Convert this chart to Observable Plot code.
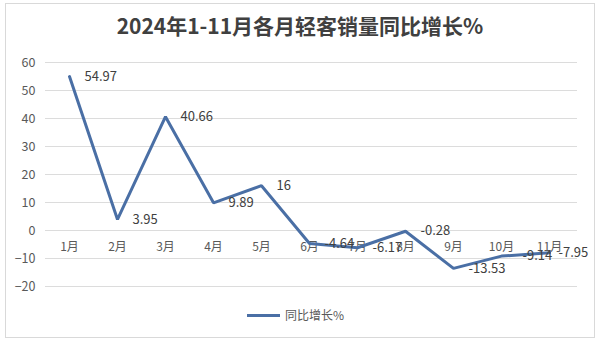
<!DOCTYPE html>
<html><head><meta charset="utf-8">
<script src="https://cdn.jsdelivr.net/npm/d3@7"></script>
<script src="https://cdn.jsdelivr.net/npm/@observablehq/plot@0.6"></script>
<style>
body{margin:0;background:#fff;width:600px;height:344px;position:relative;overflow:hidden;font-family:"Noto Sans CJK SC","Noto Sans",sans-serif;}
#frame{position:absolute;left:5px;top:3px;width:590px;height:335px;border:1px solid #d9d9d9;box-sizing:border-box;}
#title{position:absolute;left:0;top:10px;width:600px;text-align:center;font-size:21px;line-height:30px;font-weight:bold;color:#404040;}
#chart{position:absolute;left:0;top:48px;}
#legend{position:absolute;left:0;top:303px;width:600px;height:24px;}
#legend .sw{position:absolute;left:247px;top:10.5px;width:33px;height:3px;background:#4a6fa5;}
#legend .lb{position:absolute;left:285px;top:0;line-height:24px;font-size:12px;color:#595959;}
</style></head>
<body>
<div id="frame"></div>
<div id="title">2024年1-11月各月轻客销量同比增长%</div>
<div id="chart"></div>
<div id="legend"><span class="sw"></span><span class="lb">同比增长%</span></div>
<script>
const months = ["1月","2月","3月","4月","5月","6月","7月","8月","9月","10月","11月"];
const growth = [54.97, 3.95, 40.66, 9.89, 16, -4.64, -6.17, -0.28, -13.53, -9.14, -7.95];
const yTicks = [-20, -10, 0, 10, 20, 30, 40, 50, 60];
const seriesName = "同比增长%";

const data = months.map((m, i) => ({month: m, value: growth[i]}));
const lineColor = "#4a6fa5";
const n = months.length;
const labelOpts = {x: "month", y: "value", text: d => String(d.value), textAnchor: "start", fontSize: 13, fill: "#404040"};

const chart = Plot.plot({
  width: 600,
  height: 255,
  marginLeft: 45,
  marginRight: 23,
  marginTop: 14,
  marginBottom: 17,
  style: {color: "#595959", fontSize: "12px", fontFamily: '"Noto Sans CJK SC","Noto Sans",sans-serif', background: "transparent"},
  x: {type: "point", domain: months, range: [67.5, 551], padding: 0, axis: null},
  y: {domain: [-20, 60], axis: null},
  marks: [
    Plot.gridY(yTicks, {stroke: "#dcdcdc", strokeOpacity: 1, strokeWidth: 1}),
    Plot.axisY(yTicks, {tickSize: 0, tickPadding: 10, label: null, fontSize: 12.5, fill: "#595959"}),
    Plot.text(months, {x: d => d, y: () => 0, dy: 17, text: d => d, fontSize: 12, fill: "#595959"}),
    Plot.line(data, {x: "month", y: "value", stroke: lineColor, strokeWidth: 3, strokeLinejoin: "miter"}),
    Plot.text(data.slice(0, n - 2), {...labelOpts, dx: 15}),
    Plot.text(data.slice(n - 2, n - 1), {...labelOpts, dx: 21}),
    Plot.text(data.slice(n - 1), {...labelOpts, dx: 9})
  ]
});
document.getElementById("chart").appendChild(chart);
</script>
</body></html>
